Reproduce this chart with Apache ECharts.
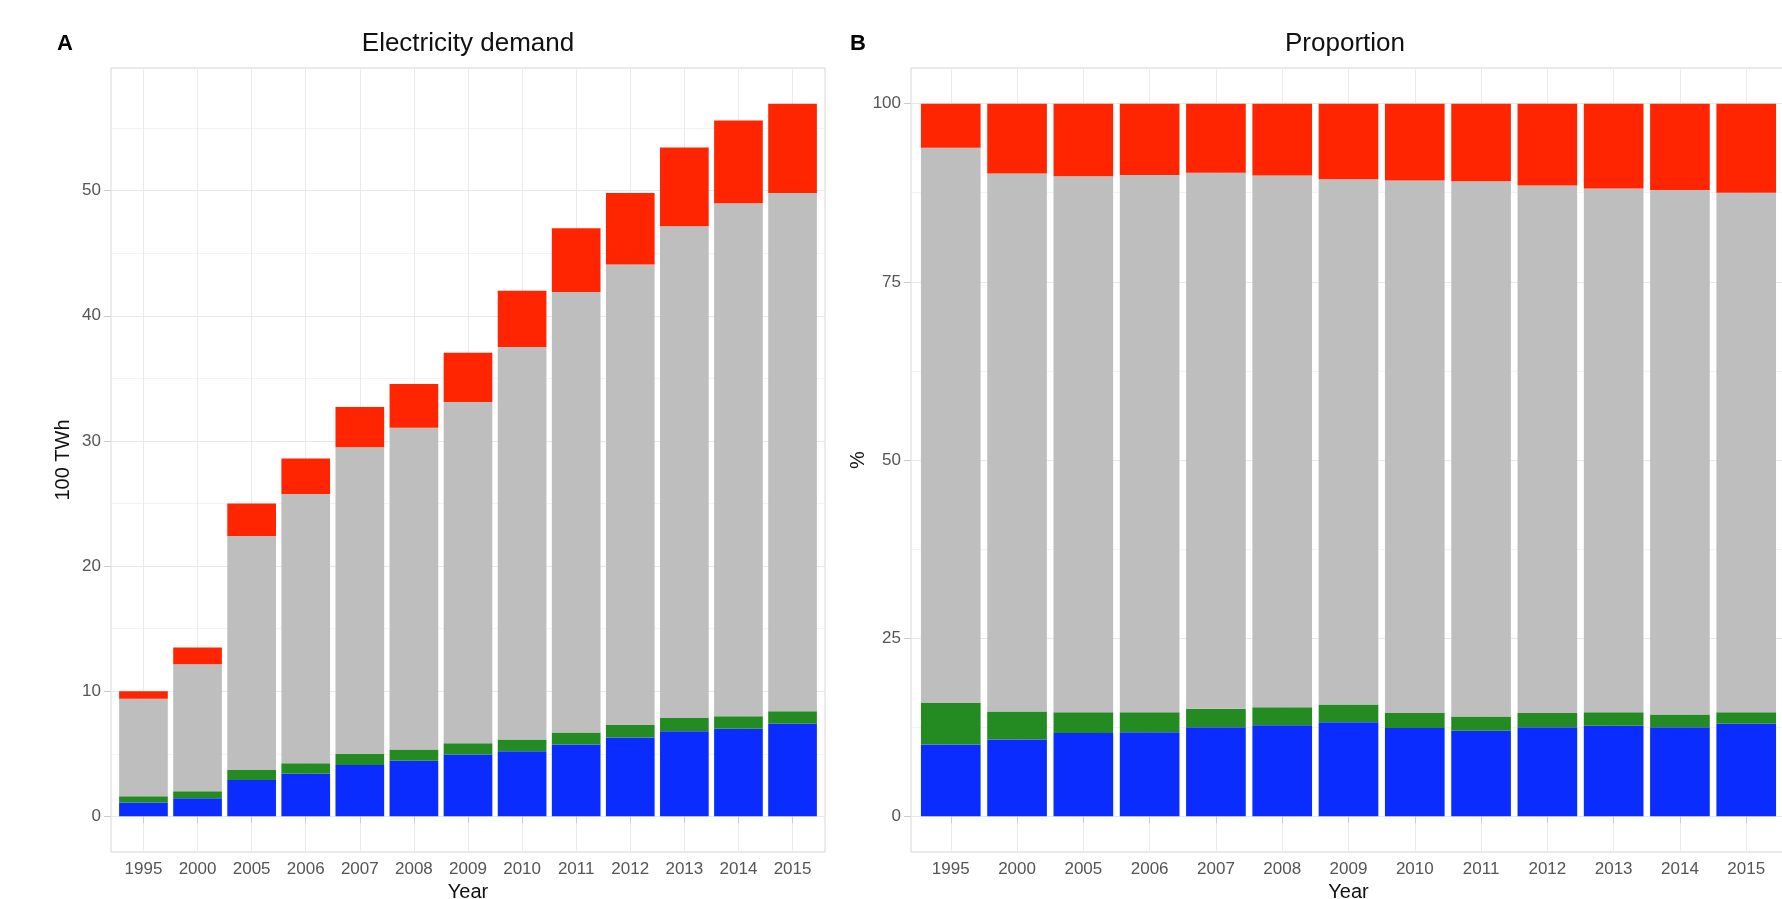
<!DOCTYPE html>
<html>
<head>
<meta charset="utf-8">
<title>Electricity demand</title>
<script src="https://cdn.jsdelivr.net/npm/echarts@6/dist/echarts.min.js"></script>
<style>
  html, body { margin: 0; padding: 0; background: #ffffff; }
  #chart { width: 1782px; height: 899px; }
</style>
</head>
<body>
<div id="chart"></div>
<script>
// Years on the category axis
const years = ['1995', '2000', '2005', '2006', '2007', '2008', '2009', '2010', '2011', '2012', '2013', '2014', '2015'];

// Panel A: electricity demand (100 TWh), one stacked segment per source
const demandBlue  = [1.1, 1.45, 2.9, 3.4, 4.1, 4.45, 4.95, 5.2, 5.75, 6.3, 6.8, 7.0, 7.4];
const demandGreen = [0.5, 0.55, 0.8, 0.85, 0.9, 0.9, 0.9, 0.95, 0.95, 1.0, 1.05, 1.0, 1.0];
const demandGray  = [7.8, 10.15, 18.7, 21.5, 24.5, 25.7, 27.25, 31.35, 35.2, 36.8, 39.3, 41.0, 41.4];
const demandRed   = [0.6, 1.35, 2.6, 2.85, 3.2, 3.5, 3.95, 4.5, 5.1, 5.7, 6.3, 6.6, 7.15];

// Panel B: share of each source (%)
const shareBlue  = [10.1, 10.8, 11.7, 11.8, 12.5, 12.8, 13.2, 12.4, 12.0, 12.5, 12.7, 12.5, 13.0];
const shareGreen = [5.8, 3.9, 2.9, 2.8, 2.6, 2.5, 2.5, 2.1, 2.0, 2.0, 1.9, 1.8, 1.6];
const shareGray  = [77.9, 75.5, 75.2, 75.4, 75.2, 74.6, 73.7, 74.7, 75.1, 74.0, 73.5, 73.6, 72.9];
const shareRed   = [6.2, 9.8, 10.2, 10.0, 9.7, 10.1, 10.6, 10.8, 10.9, 11.5, 11.9, 12.1, 12.5];

// Axis ticks
const demandTicks      = [0, 10, 20, 30, 40, 50];
const demandMinorTicks = [5, 15, 25, 35, 45, 55];
const shareTicks       = [0, 25, 50, 75, 100];
const shareMinorTicks  = [12.5, 37.5, 62.5, 87.5];

const COLORS = { blue: '#0a2cff', green: '#238b22', gray: '#bebebe', red: '#ff2500' };
const FONT = 'Liberation Sans, Arial, Helvetica, sans-serif';
const positions = years.map((_, i) => i + 1);

// y ranges padded by 5% of the data range, like ggplot's default expansion
function paddedRange(stacks) {
  let top = 0;
  for (let i = 0; i < years.length; i++) {
    top = Math.max(top, stacks.reduce((s, arr) => s + arr[i], 0));
  }
  const pad = top * 0.05;
  return [-pad, top + pad];
}
const demandRange = paddedRange([demandBlue, demandGreen, demandGray, demandRed]);
const shareRange = [-5, 105];

function xAxisFor(gridIndex) {
  return {
    type: 'value', gridIndex: gridIndex,
    min: 0.4, max: years.length + 0.6,
    name: 'Year', nameLocation: 'middle', nameGap: 29,
    nameTextStyle: { fontFamily: FONT, fontSize: 20, color: '#111' },
    axisLine: { show: false },
    axisTick: { show: true, length: 7, lineStyle: { color: '#cccccc' }, customValues: positions },
    axisLabel: {
      customValues: positions, margin: 9,
      fontFamily: FONT, fontSize: 17, color: '#555',
      formatter: v => years[Math.round(v) - 1]
    },
    splitLine: { show: true, lineStyle: { color: '#ebebeb', width: 1 } }
  };
}

function yAxisFor(gridIndex, range, ticks, name, gap) {
  return {
    type: 'value', gridIndex: gridIndex,
    min: range[0], max: range[1],
    name: name, nameLocation: 'middle', nameGap: gap,
    nameTextStyle: { fontFamily: FONT, fontSize: 20, color: '#111' },
    axisLine: { show: false },
    axisTick: { show: true, length: 7, lineStyle: { color: '#cccccc' }, customValues: ticks },
    axisLabel: {
      customValues: ticks, margin: 10,
      fontFamily: FONT, fontSize: 17, color: '#555'
    },
    splitLine: { show: true, lineStyle: { color: '#e8e8e8', width: 1.2 } }
  };
}

function minorAxisFor(gridIndex, range, ticks) {
  return {
    type: 'value', gridIndex: gridIndex, position: 'left',
    min: range[0], max: range[1],
    axisLine: { show: false },
    axisTick: { show: false, customValues: ticks },
    axisLabel: { show: false },
    splitLine: { show: true, lineStyle: { color: '#f3f3f3', width: 1 } }
  };
}

// The value comes first in each data item so that it is the stacked dimension;
// the second item is the bar's position on the year axis.
function stackSeries(xi, yi, stackName, parts) {
  return parts.map(p => ({
    type: 'bar', name: p.name, stack: stackName,
    xAxisIndex: xi, yAxisIndex: yi,
    barWidth: '90%',
    encode: { x: 1, y: 0 },
    itemStyle: { color: p.color },
    data: p.values.map((v, i) => [v, positions[i]])
  }));
}

const chart = echarts.init(document.getElementById('chart'), null, { renderer: 'canvas' });

const panelFrame = { show: true, borderColor: '#d6d6d6', borderWidth: 1, backgroundColor: 'transparent', containLabel: false, outerBoundsMode: 'none' };

chart.setOption({
  animation: false,
  backgroundColor: '#ffffff',
  grid: [
    Object.assign({ left: 111, top: 68, width: 714, height: 784 }, panelFrame),
    Object.assign({ left: 911, top: 68, width: 875, height: 784 }, panelFrame)
  ],
  xAxis: [xAxisFor(0), xAxisFor(1)],
  yAxis: [
    yAxisFor(0, demandRange, demandTicks, '100 TWh', 38),
    minorAxisFor(0, demandRange, demandMinorTicks),
    yAxisFor(1, shareRange, shareTicks, '%', 42),
    minorAxisFor(1, shareRange, shareMinorTicks)
  ],
  series: [
    ...stackSeries(0, 0, 'demand', [
      { name: 'blue', color: COLORS.blue, values: demandBlue },
      { name: 'green', color: COLORS.green, values: demandGreen },
      { name: 'gray', color: COLORS.gray, values: demandGray },
      { name: 'red', color: COLORS.red, values: demandRed }
    ]),
    ...stackSeries(1, 2, 'share', [
      { name: 'blue', color: COLORS.blue, values: shareBlue },
      { name: 'green', color: COLORS.green, values: shareGreen },
      { name: 'gray', color: COLORS.gray, values: shareGray },
      { name: 'red', color: COLORS.red, values: shareRed }
    ])
  ],
  graphic: [
    { type: 'text', x: 65, y: 44, style: { text: 'A', font: 'bold 22px ' + FONT, fill: '#000', align: 'center', verticalAlign: 'middle' } },
    { type: 'text', x: 858, y: 44, style: { text: 'B', font: 'bold 22px ' + FONT, fill: '#000', align: 'center', verticalAlign: 'middle' } },
    { type: 'text', x: 468, y: 44, style: { text: 'Electricity demand', font: '26px ' + FONT, fill: '#111', align: 'center', verticalAlign: 'middle' } },
    { type: 'text', x: 1345, y: 44, style: { text: 'Proportion', font: '26px ' + FONT, fill: '#111', align: 'center', verticalAlign: 'middle' } }
  ]
});
</script>
</body>
</html>
